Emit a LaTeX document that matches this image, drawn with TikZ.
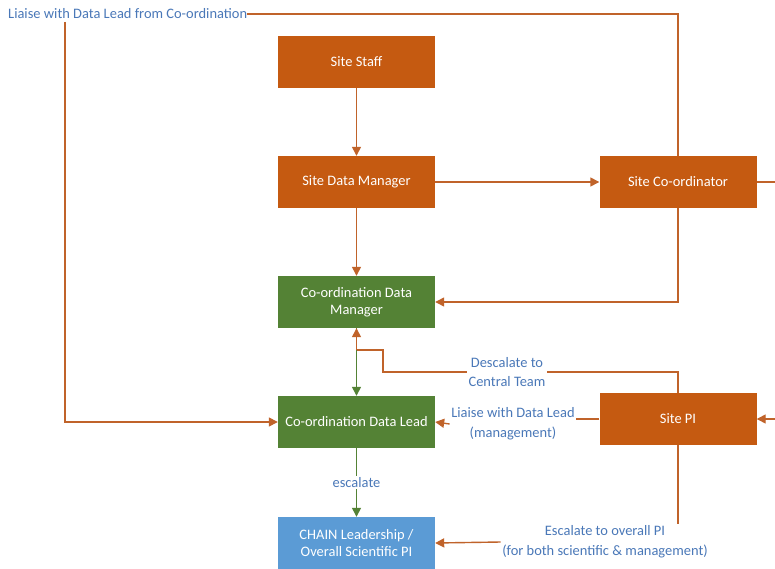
\documentclass[tikz,border=0pt]{standalone}
\usepackage{fontspec}
\setmainfont{Carlito}
\usetikzlibrary{arrows.meta,calc}
\definecolor{boxorange}{HTML}{C55A11}
\definecolor{boxgreen}{HTML}{548235}
\definecolor{boxblue}{HTML}{5B9BD5}
\definecolor{lineorange}{HTML}{C0632A}
\definecolor{lblblue}{HTML}{4A78B8}
\tikzset{
  box/.style={draw=none, minimum width=157bp, minimum height=52bp, text=white, align=center, font=\fontsize{14.5}{17}\selectfont, inner sep=2bp},
  obox/.style={box, fill=boxorange},
  gbox/.style={box, fill=boxgreen},
  bbox/.style={box, fill=boxblue},
  oline/.style={draw=lineorange, line width=1.4bp},
  oarr/.style={oline, -{Triangle[length=9bp,width=9bp]}},
  garr/.style={draw=boxgreen, line width=1.4bp, -{Triangle[length=9bp,width=9bp]}},
  lbl/.style={text=lblblue, fill=white, align=center, font=\fontsize{14.5}{20}\selectfont, inner sep=1.5bp}
}
\begin{document}
\begin{tikzpicture}[x=1bp,y=-1bp]
\useasboundingbox (0,0) rectangle (775,569);
\clip (0,0) rectangle (775,569);
\fill[white] (0,0) rectangle (775,569);
% nodes
\node[obox] (staff) at (356.5,62) {Site Staff};
\node[obox] (sdm) at (356.5,182) {Site Data Manager};
\node[obox] (coord) at (678,182) {Site Co-ordinator};
\node[gbox] (cdm) at (356.5,302) {Co-ordination Data\\Manager};
\node[gbox] (cdl) at (356.5,422) {Co-ordination Data Lead};
\node[obox] (pi) at (678,419) {Site PI};
\node[bbox] (chain) at (356.5,543) {CHAIN Leadership /\\Overall Scientific PI};
% labels
\node[lbl, anchor=west, inner xsep=0bp] (toplbl) at (8,14) {Liaise with Data Lead from Co-ordination};
\node[lbl] (desc) at (507,372) {Descalate to\\Central Team};
\node[lbl] (liaise) at (513,424) {Liaise with Data Lead\\(management)};
\node[lbl] (esc) at (605,542) {Escalate to overall PI\\(for both scientific \& management)};
% coordinates
\coordinate (tl) at (65,22);
\coordinate (j1) at (356.5,350);
\coordinate (j2) at (383,350);
\coordinate (j3) at (383,372);
\coordinate (r1) at (790,182);
\coordinate (r2) at (790,419);
% connectors
\draw[oarr] (staff) -- (sdm);
\draw[oarr] (sdm) -- (coord);
\draw[oarr] (sdm) -- (cdm);
\draw[oarr] (coord.south) |- (cdm.east);
\draw[oline] (coord.north) |- (toplbl.east);
\draw[oarr] (tl) |- (cdl.west);
\draw[oarr] (coord.east) -- (r1) -- (r2) -- (pi.east);
\draw[garr] (cdm.south) -- (cdl.north);
\draw[oline] (pi.north) |- (desc.east);
\draw[oline] (desc.west) -- (j3) -- (j2) -- (j1);
\draw[oarr] (j1) -- (cdm.south);
\draw[oline] (pi.west) -- (pi.west -| liaise.east);
\draw[oarr] (liaise.west) -- (cdl.east);
\draw[garr] (cdl) -- node[lbl] {escalate} (chain);
\draw[oline] (pi.south) -- (pi.south |- esc.north);
\draw[oarr] (esc.west) -- (chain.east);
\end{tikzpicture}
\end{document}
